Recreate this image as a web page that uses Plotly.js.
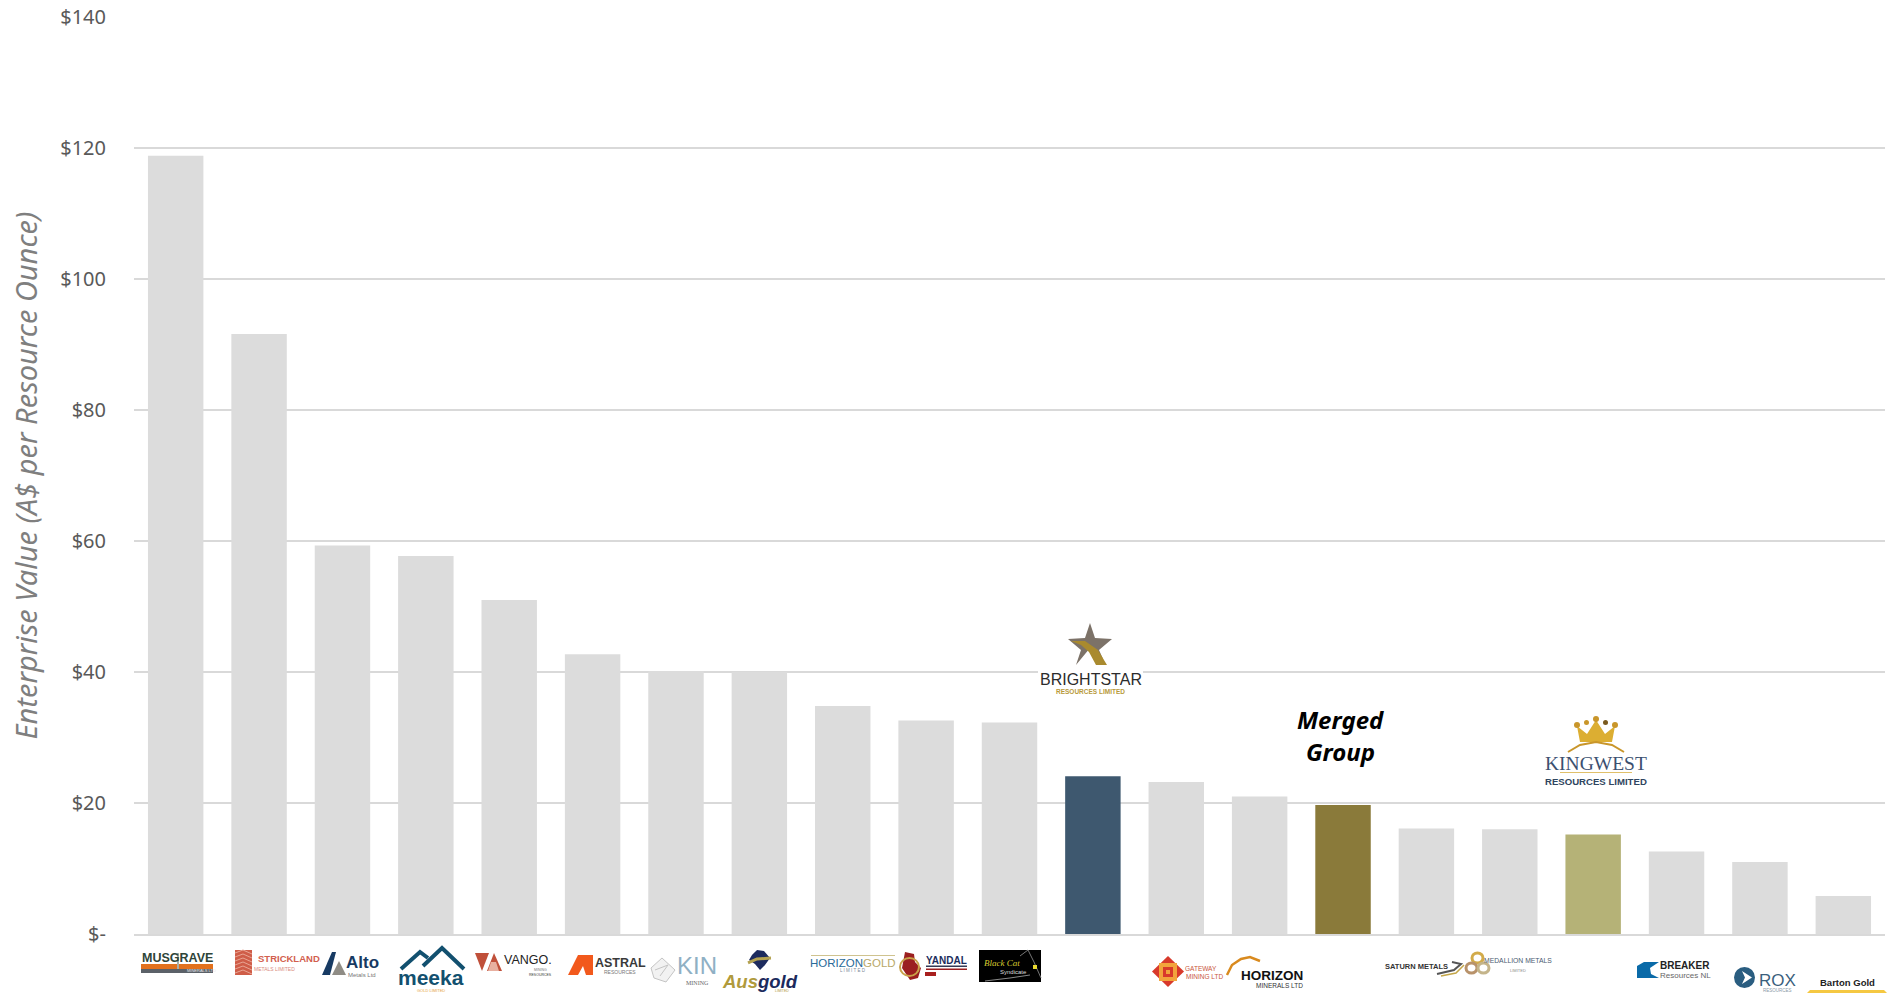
<!DOCTYPE html>
<html><head><meta charset="utf-8">
<script src="https://cdn.plot.ly/plotly-3.0.1.min.js"></script>
<style>html,body{margin:0;padding:0;background:#fff;overflow:hidden}</style>
</head><body><div id="chart" style="width:1891px;height:993px"></div>
<script>
const companies = ["Musgrave Minerals","Strickland Metals","Alto Metals","Meeka Gold","Vango Mining","Astral Resources","Kin Mining","Ausgold","Horizon Gold","Yandal Resources","Black Cat Syndicate","Brightstar Resources","Gateway Mining","Horizon Minerals","Merged Group","Saturn Metals","Medallion Metals","Kingwest Resources","Breaker Resources","Rox Resources","Barton Gold"];
const enterpriseValue = [118.8,91.6,59.3,57.7,51,42.7,40.1,40,34.8,32.6,32.3,24.1,23.2,21,19.7,16.1,16,15.2,12.6,11,5.8];
const barColors = ["#dcdcdc","#dcdcdc","#dcdcdc","#dcdcdc","#dcdcdc","#dcdcdc","#dcdcdc","#dcdcdc","#dcdcdc","#dcdcdc","#dcdcdc","#3e586f","#dcdcdc","#dcdcdc","#8a7a3a","#dcdcdc","#dcdcdc","#b5b277","#dcdcdc","#dcdcdc","#dcdcdc"];
const yTickValues = [0,20,40,60,80,100,120,140];
const yTickLabels = ["$-","$20","$40","$60","$80","$100","$120","$140"];

const L=134,R=1885,T=17,B=934;
const X=p=>(p-L)/(R-L), Y=p=>(B-p)/(B-T);
const SANS="Noto Sans", SERIF="Liberation Serif";
const anns=[], shapes=[];
function txt(t,cx,cy,size,color,o={}){
  anns.push({text:t,x:X(cx),y:Y(cy),xref:'paper',yref:'paper',showarrow:false,xanchor:'center',yanchor:'middle',
    borderpad:0,font:{size,color,family:o.f||"Liberation Sans",weight:o.w||400,style:o.i?'italic':'normal'}});
}
function path(pts,fill,close=true,line){
  const d=pts.map((p,i)=>(i?'L':'M')+X(p[0]).toFixed(5)+' '+Y(p[1]).toFixed(5)).join(' ')+(close?' Z':'');
  shapes.push({type:'path',path:d,xref:'paper',yref:'paper',layer:'above',fillcolor:fill||'rgba(0,0,0,0)',line:line||{width:0}});
}
function rect(x0,y0,x1,y1,fill){
  shapes.push({type:'rect',x0:X(x0),x1:X(x1),y0:Y(y0),y1:Y(y1),xref:'paper',yref:'paper',layer:'above',fillcolor:fill,line:{width:0}});
}
function circ(x0,y0,x1,y1,fill,line){
  shapes.push({type:'circle',x0:X(x0),x1:X(x1),y0:Y(y0),y1:Y(y1),xref:'paper',yref:'paper',layer:'above',fillcolor:fill||'rgba(0,0,0,0)',line:line||{width:0}});
}
function stroke(pts,color,width){path(pts,null,false,{color,width});}

// Musgrave
rect(141,964,213,969,'#e2711d');rect(141,969,213,973,'#5b6168');rect(177,953,179,969,'#aab0a8');
txt('MUSGRAVE',177,958,12.5,'#2e4438',{w:700});txt('MINERALS LTD',201,971,4,'#e8e8e8');
// Strickland
rect(235,950,252,975,'#cf5d48');
[0,1,2,3,4,5].forEach(i=>stroke([[235,953+i*4],[243,950+i*4],[252,954+i*4]],'#e9a594',1));
txt('STRICKLAND',289,958,9.5,'#d2604e',{w:700});txt('METALS LIMITED',274,969,5,'#d98a7c');
// Alto
path([[322,975],[332,952],[336,952],[330,975]],'#173a63');path([[332,975],[339,961],[346,975]],'#8f8c85');
txt('Alto',362,962,17,'#173a63',{w:700});txt('Metals Ltd',362,975,6,'#777');
// Meeka
stroke([[401,969],[420,952],[428,958]],'#12506f',4);stroke([[423,966],[442,948],[464,969]],'#12506f',4);
txt('meeka',431,977,21,'#12506f',{w:700});txt('GOLD LIMITED',431,990.5,4,'#e5a33a');
// Vango
path([[475,953],[489,953],[482,971]],'#c0503a');path([[487,971],[494,953],[502,971]],'#c0503a');path([[491,962],[496,962],[499,971],[488,971]],'#e8b0a0');
txt('VANGO.',528,960,12.5,'#222');txt('MINING',540,970,3.5,'#777');txt('RESOURCES',540,974.5,3.5,'#333');
// Astral
path([[568,975],[578,955],[593,955],[593,975],[586,975],[583,966],[578,975]],'#f2591c');
txt('ASTRAL',620,962.5,12.5,'#3a3a3a',{w:700});txt('RESOURCES',620,972.5,5,'#777');
// Kin
path([[651,968],[662,958],[675,970],[666,982],[654,978]],'#f2f2f2',true,{color:'#c4c4c4',width:1});
stroke([[655,970],[668,965],[660,976]],'#c4c4c4',1);
txt('KIN',697,965,24,'#8fb0c4');txt('MINING',697,982.5,6,'#666',{f:SERIF});
// Ausgold
path([[749,960],[752,955],[757,950],[764,951],[770,958],[765,965],[760,970],[755,964]],'#1d2b5e');
stroke([[748,963],[757,959],[771,958]],'#b4a250',3);
anns.push({text:'<span style="color:#b09a3c">Aus</span><span style="color:#1b2a5c">gold</span>',x:X(760),y:Y(981),xref:'paper',yref:'paper',showarrow:false,xanchor:'center',yanchor:'middle',borderpad:0,font:{size:18.5,family:"Liberation Sans",weight:700,style:'italic'}});
txt('LIMITED',782,991,3.5,'#b09a3c');
// Horizon Gold
rect(811,955,895,956,'#cfc38f');
anns.push({text:'<span style="color:#2a6a98">HORIZON</span><span style="color:#b9a96a">GOLD</span>',x:X(853),y:Y(962.5),xref:'paper',yref:'paper',showarrow:false,xanchor:'center',yanchor:'middle',borderpad:0,font:{size:11.5,family:"Liberation Sans"}});
txt('L I M I T E D',853,970.5,4.5,'#7a8a98');
// Yandal
path([[905,952],[914,954],[915,962],[921,968],[918,978],[910,980],[902,968]],'#9b1f20');
circ(900,958,919,976,null,{color:'#c9a24a',width:2});
txt('YANDAL',946,960.5,10,'#1c2d5c',{w:700});rect(926,965.5,967,967,'#333a55');rect(926,968.5,967,970,'#9b1f20');rect(925,972,936,976,'#a8201f');
// Black Cat
rect(979,950,1041,982,'#000');
txt('Black Cat',1002,963,9,'#d9cc30',{i:1,f:SERIF});txt('Syndicate',1014,972,6,'#ddd');
stroke([[1020,956],[1028,950],[1034,962],[1041,978]],'#777',1);stroke([[985,981],[1010,978],[1030,975]],'#888',1);
rect(1033,965,1037,969,'#e8d830');
// Brightstar
rect(1038,670,1143,675,'#fff');
path([[1090,623],[1095,638],[1112,639],[1099,650],[1103,659],[1090,648],[1076,665],[1081,650],[1068,639],[1085,638]],'#7c7268');
path([[1071,641],[1085,641],[1098,650],[1107,665],[1096,665],[1089,652],[1081,645]],'#a98a2e');
txt('BRIGHTSTAR',1090.5,679,16,'#2c2c2c');txt('RESOURCES LIMITED',1090.5,691.5,6.5,'#b89a3a',{w:700});
// Merged group
txt('Merged',1340,719,24,'#000',{f:SANS,w:700,i:1});txt('Group',1340,751,24,'#000',{f:SANS,w:700,i:1});
// Gateway
path([[1168,956],[1184,971.5],[1168,987],[1152,971.5]],'#d8392b');
path([[1159,963],[1177,963],[1177,981],[1159,981]],'#f2a33c');rect(1163,967,1173,977,'#d8392b');rect(1166,970,1170,974,'#f2a33c');
txt('GATEWAY',1201,968,6.5,'#c9553c');txt('MINING LTD',1204,976,6.5,'#c9553c');
// Horizon Minerals
stroke([[1227,975],[1232,965],[1241,959],[1250,957],[1260,961]],'#d98a1e',2.5);
txt('HORIZON',1271.5,975,13.5,'#111',{w:700});txt('MINERALS LTD',1279,986,6.5,'#333');
// Saturn
txt('SATURN METALS',1416,966,7.5,'#333',{w:700});
stroke([[1437,974],[1454,970],[1461,964],[1452,962]],'#555',2);stroke([[1441,976],[1456,973],[1464,965]],'#c4a648',1.5);
// Medallion
circ(1472,953,1483,963,null,{color:'#d2ab4a',width:3});circ(1466,963,1477,973,null,{color:'#b8926a',width:3});circ(1478,963,1489,973,null,{color:'#c4b48a',width:3});
txt('MEDALLION METALS',1518,960,6.8,'#4a5a70');txt('LIMITED',1518,970,4,'#8a8a8a');
// Kingwest
path([[1580,742],[1577,726],[1587,734],[1596,720],[1605,734],[1615,726],[1612,742]],'#dcae32');
circ(1574,722,1580,728,'#c9962a');circ(1584,720,1589,725,'#c9962a');circ(1593,716,1599,722,'#c9962a');circ(1603,720,1608,725,'#7a5a1e');circ(1612,722,1618,728,'#c9962a');
stroke([[1568,752],[1580,745],[1596,742],[1612,745],[1624,752]],'#c9962a',2);
txt('KINGWEST',1595.5,763,19.5,'#3b5070',{f:SERIF});rect(1560,772,1632,773,'#e0c06a');
txt('RESOURCES LIMITED',1596,781,9.6,'#2f4560',{w:700});
// Breaker
path([[1637,978],[1637,966],[1644,962],[1659,962],[1650,968],[1651,974],[1659,978]],'#0a6aa8');
txt('BREAKER',1685,965.5,10,'#222',{w:700});txt('Resources NL',1685,975,8,'#666');
// Rox
circ(1734,967,1755,988,'#2a5d80');path([[1742,971],[1752,977.5],[1742,984],[1745,977.5]],'#fff');
txt('ROX',1777,980.5,17,'#3b5f7d');txt('RESOURCES',1777,990.5,4.5,'#8a9aa8');
// Barton
txt('Barton Gold',1847,982,9.5,'#222',{w:700});
path([[1807,993],[1810,990],[1884,990],[1887,993]],'#f5c842');

const trace={type:'bar',x:companies,y:enterpriseValue,marker:{color:barColors,line:{width:0}},hoverinfo:'x+y'};
const layout={
  width:1891,height:993,autosize:false,
  margin:{l:L,r:1891-R,t:T,b:993-B,pad:0},
  paper_bgcolor:'#fff',plot_bgcolor:'#fff',showlegend:false,bargap:0.335,
  font:{family:SANS,color:'#595959'},
  xaxis:{type:'category',showticklabels:false,ticks:'',showgrid:false,showline:true,linecolor:'#d9d9d9',linewidth:2,zeroline:false,fixedrange:true},
  yaxis:{range:[0,140],tickmode:'array',tickvals:yTickValues,ticktext:yTickLabels,showgrid:true,gridcolor:'#d9d9d9',gridwidth:2,zeroline:false,showline:false,ticks:'',
    ticklabelstandoff:27,tickfont:{size:20,color:'#595959',family:SANS},fixedrange:true,
    title:{text:'Enterprise Value (A$ per Resource Ounce)',standoff:14,font:{size:29,color:'#7f7f7f',family:SANS,style:'italic'}}},
  annotations:anns,shapes:shapes
};
Plotly.newPlot('chart',[trace],layout,{displayModeBar:false,responsive:false});
</script></body></html>
